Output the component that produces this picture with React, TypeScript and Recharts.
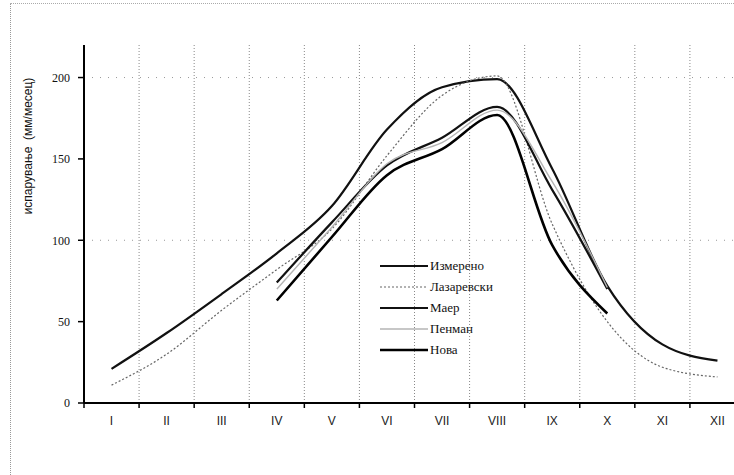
import { CartesianGrid, Legend, Line, LineChart, XAxis, YAxis } from "recharts";

const months = ["I", "II", "III", "IV", "V", "VI", "VII", "VIII", "IX", "X", "XI", "XII"];
const izmereno = [21, 43, 67, 92, 121, 168, 194, 199, 144, 72, 36, 26];
const lazarevski = [11, 30, 57, 82, 107, 152, 189, 201, 110, 50, 22, 16];
const maer = [null, null, null, 74, 111, 146, 163, 182, 131, 70, null, null];
const penman = [null, null, null, 70, 108, 147, 160, 180, 136, 71, null, null];
const nova = [null, null, null, 63, 102, 140, 156, 177, 97, 55, null, null];
const yTicks = [0, 50, 100, 150, 200];
const yGrid = [100, 200];

const series = [
  { key: "izmereno", name: "Измерено", values: izmereno, stroke: "#111", width: 2.2, dash: undefined },
  { key: "lazarevski", name: "Лазаревски", values: lazarevski, stroke: "#666", width: 1.2, dash: "2 2" },
  { key: "maer", name: "Маер", values: maer, stroke: "#111", width: 2.2, dash: undefined },
  { key: "penman", name: "Пенман", values: penman, stroke: "#b5b5b5", width: 1.4, dash: undefined },
  { key: "nova", name: "Нова", values: nova, stroke: "#000", width: 2.6, dash: undefined }
];

const data = months.map((month, i) => {
  const row: Record<string, number | string | null> = { month, pos: i + 0.5 };
  series.forEach((s) => {
    row[s.key] = s.values[i];
  });
  return row;
});

const boundaryTicks = Array.from({ length: months.length + 1 }, (_, i) => i);
const centerTicks = data.map((d) => d.pos as number);

function LegendBox() {
  return (
    <div style={{ fontFamily: "'Liberation Serif', 'Times New Roman', serif", fontSize: 13, color: "#111" }}>
      {series.map((s) => (
        <div key={s.key} style={{ display: "flex", alignItems: "center", height: 21 }}>
          <svg width={48} height={6}>
            <line x1={0} y1={3} x2={48} y2={3} stroke={s.stroke} strokeWidth={s.width} strokeDasharray={s.dash} />
          </svg>
          <span style={{ marginLeft: 2, fontFamily: "'Liberation Serif', serif" }}>{s.name}</span>
        </div>
      ))}
    </div>
  );
}

export default function App() {
  return (
    <div style={{ position: "relative", width: 734, height: 475, overflow: "hidden", background: "#fff" }}>
      <style>{"body{margin:0}"}</style>
      <div
        style={{
          position: "absolute",
          left: 10,
          top: 3,
          right: -10,
          bottom: -10,
          borderLeft: "1px dotted #999",
          borderTop: "1px dotted #aaa"
        }}
      />
      <LineChart width={745} height={475} data={data} margin={{ top: 45, right: 0, bottom: 70, left: 0 }}>
        <CartesianGrid stroke="#888" strokeDasharray="1 2" horizontal={false} verticalValues={boundaryTicks} />
        <CartesianGrid stroke="#999" strokeDasharray="1 7" vertical={false} horizontalValues={yGrid} />
        <XAxis
          type="number"
          dataKey="pos"
          domain={[0, months.length]}
          ticks={boundaryTicks}
          interval={0}
          tickFormatter={() => ""}
          tickSize={5}
          tickLine={{ stroke: "#000", strokeWidth: 1.5 }}
          axisLine={{ stroke: "#000", strokeWidth: 2 }}
          height={1}
        />
        <XAxis
          xAxisId="label"
          type="number"
          dataKey="pos"
          domain={[0, months.length]}
          ticks={centerTicks}
          interval={0}
          tickFormatter={(v: number) => months[Math.floor(v)]}
          tick={{ fill: "#222", fontSize: 12, fontFamily: "'Liberation Sans', Arial, sans-serif" }}
          tickSize={0}
          tickMargin={12}
          axisLine={false}
          tickLine={false}
          height={1}
        />
        <YAxis
          width={84}
          domain={[0, 220]}
          ticks={yTicks}
          tick={{ fill: "#111", fontSize: 12, fontFamily: "'Liberation Serif', 'Times New Roman', serif" }}
          tickSize={6}
          tickMargin={8}
          tickLine={{ stroke: "#000", strokeWidth: 1.5 }}
          axisLine={{ stroke: "#000", strokeWidth: 2 }}
          label={{
            content: () => (
              <text
                x={28}
                y={146}
                transform="rotate(-90 28 146)"
                textAnchor="middle"
                dominantBaseline="central"
                fill="#111"
                fontSize={12}
                fontFamily="'Liberation Sans', Arial, sans-serif"
                style={{ whiteSpace: "pre" }}
              >
                испарување  (мм/месец)
              </text>
            )
          }}
        />
        <Legend
          layout="vertical"
          align="center"
          verticalAlign="middle"
          content={() => <LegendBox />}
          wrapperStyle={{ position: "absolute", left: 380, top: 255, width: 150 }}
        />
        {series.map((s) => (
          <Line
            key={s.key}
            type="monotone"
            dataKey={s.key}
            name={s.name}
            stroke={s.stroke}
            strokeWidth={s.width}
            strokeDasharray={s.dash}
            dot={false}
            activeDot={false}
            connectNulls={false}
            isAnimationActive={false}
          />
        ))}
      </LineChart>
    </div>
  );
}
